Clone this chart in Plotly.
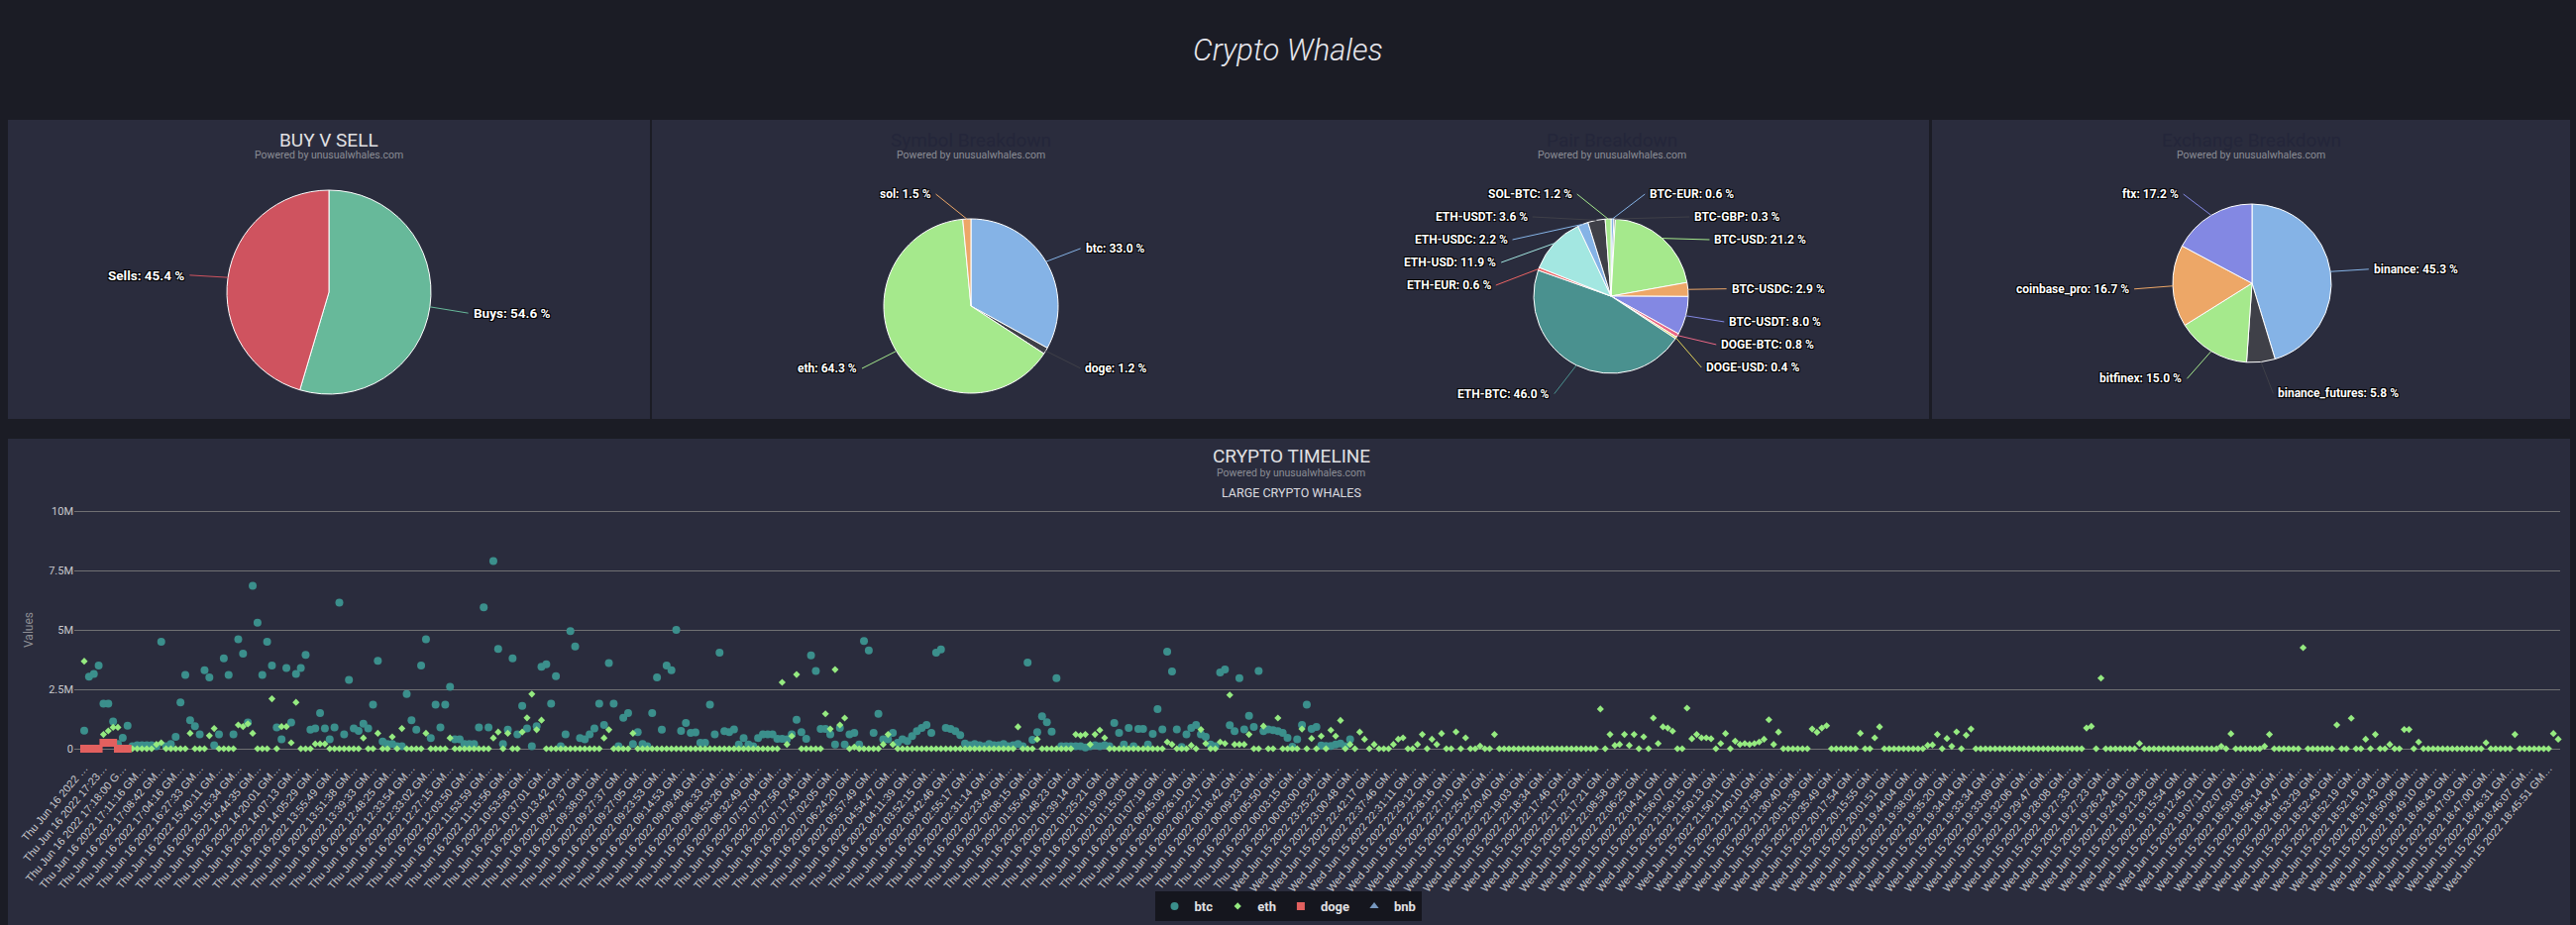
import math
import plotly.graph_objects as go

W, H = 2600, 934

# ---- pie data (percent shares as printed on the labels) ----
side_labels = ['Buys', 'Sells']
side_pct = [54.6, 45.4]
side_colors = ['#67b99a', '#cf535f']

symbol_labels = ['btc', 'doge', 'eth', 'sol']
symbol_pct = [33.0, 1.2, 64.3, 1.5]

pair_labels = ['BTC-EUR', 'BTC-GBP', 'BTC-USD', 'BTC-USDC', 'BTC-USDT', 'DOGE-BTC', 'DOGE-USD',
               'ETH-BTC', 'ETH-EUR', 'ETH-USD', 'ETH-USDC', 'ETH-USDT', 'SOL-BTC']
pair_pct = [0.6, 0.3, 21.2, 2.9, 8.0, 0.8, 0.4, 46.0, 0.6, 11.9, 2.2, 3.6, 1.2]

exchange_labels = ['binance', 'binance_futures', 'bitfinex', 'coinbase_pro', 'ftx']
exchange_pct = [45.3, 5.8, 15.0, 16.7, 17.2]

palette = ['#85b3e6', '#3f4048', '#a5e98c', '#eda767', '#8388e3',
           '#ea6784', '#e2d35a', '#4a918f', '#ec6464', '#a3e7e1']

# ---- timeline data, values in millions, newest trade first ----
btc = [.76, 3.03, 3.15, 3.5, 1.9, 1.9, 1.15, .2, .46, .97, .1, .15, .15, .15, .15, .1, 4.5, .1, .2, .5,
       1.95, 3.1, 1.2, .95, .6, 3.3, 3.0, .15, .6, 3.8, 3.1, .6, 4.6, 4.0, 1.1, 6.85, 5.3, 3.1, 4.5, 3.5,
       .9, .4, 3.4, 1.1, 3.15, 3.4, 3.95, .8, .85, 1.5, .85, .4, .9, 6.15, .6, 2.9, .85, .75, 1.05, .85,
       1.85, 3.7, .3, .2, .2, .1, .1, 2.3, 1.2, .8, 3.5, 4.6, .45, 1.85, .9, 1.85, 2.6, .4, .4, .2,
       .2, .2, .9, 5.95, .9, 7.9, 4.2, .2, .8, 3.8, .6, 1.8, .85, .1, .95, 3.45, 3.55, 1.9, 3.05, .1,
       .6, 4.95, 4.3, .45, .4, .6, .85, 1.9, 1.0, 3.6, 1.9, .1, 1.3, 1.5, .2, .7, .2, .1, 1.5, 3.0,
       .8, 3.5, 3.3, 5.0, .75, 1.08, .67, .69, .25, .25, 1.85, .6, 4.04, .74, .7, .81, .18, .45, .18, .1,
       .45, .6, .6, .6, .42, .42, .4, .6, 1.22, .7, .42, 3.93, 3.27, .83, .83, .6, .18, .87, .18, .6,
       .67, .18, 4.53, 4.14, .67, 1.47, .4, .4, .67, .25, .4, .32, .53, .74, .87, 1.0, .67, 4.04, 4.18, .87,
       .83, .74, .57, .22, .15, .2, .15, .1, .2, .15, .15, .2, .1, .15, .2, .1, 3.63, .38, .7, 1.36,
       1.11, .72, 2.97, .1, .1, .1, .1, .1, .05, .1, .15, .1, .15, .1, 1.08, .67, .18, .87, .1, .83,
       .83, .18, .62, 1.67, .81, 4.08, 3.25, .81, .07, .6, .87, 1.0, .6, .5, .18, .1, 3.21, 3.33, .99, .74,
       2.97, .81, 1.39, .92, 3.27, .74, .81, .78, .74, .67, .46, .08, .4, 1.0, 1.85, .83, .92, .14, .11, .11,
       .18, .22, .1, .4]

eth = [3.68, 0, 0, 0, .6, .75, .9, .9, 0, 0, 0, 0, 0, 0, 0, .18, .25, 0, 0, 0,
       0, 0, .65, 0, 0, 0, .55, .85, 0, 0, 0, 0, 1.0, .93, 1.05, .65, 0, 0, 0, 2.1,
       0, .93, .93, .25, 1.95, 0, 0, 0, .2, .2, .2, 0, 0, 0, 0, 0, 0, 0, .45, 0,
       0, .65, 0, 0, .5, 0, .85, 0, 0, 0, 0, .65, 0, 0, 0, 0, .45, 0, 0, 0,
       0, 0, 0, 0, 0, .45, .7, 0, .65, 0, 0, .7, 1.3, 2.3, .8, 1.2, 0, 0, 0, 0,
       0, 0, 0, 0, 0, 0, 0, 0, .45, .8, 0, 0, 0, 0, .65, 0, 0, 0, 0, 0,
       0, 0, 0, 0, 0, 0, 0, 0, 0, 0, 0, 0, 0, 0, 0, 0, 0, 0, 0, 0,
       0, 0, 0, 0, 0, 2.79, .18, .53, 3.12, 0, 0, 0, 0, 0, 1.47, .83, 3.33, 1.0, 1.29, 0,
       .07, 0, 0, 0, 0, 0, .18, .6, .18, 0, 0, 0, 0, 0, 0, 0, 0, 0, 0, 0,
       0, 0, 0, 0, 0, 0, 0, 0, 0, 0, 0, 0, 0, 0, .92, 0, 0, 0, .4, 0,
       0, 0, 0, 0, 0, 0, .6, .56, .6, .18, .6, .78, .46, 0, 0, 0, 0, 0, 0, 0,
       0, 0, 0, 0, 0, .28, .18, 0, 0, 0, .14, 0, .81, .22, 0, 0, .28, .22, 2.26, .18,
       .18, .18, .6, 0, 0, .95, 0, 0, 1.29, 0, 0, 0, 0, .83, 0, .43, 0, .53, 0, .78,
       .53, 1.19, 0, .18, 0, .7, .4, 0, .18, 0, 0, 0, .18, .4, .46, 0, 0, .18, .6, 0,
       .4, .18, .64, 0, 0, .71, 0, .46, 0, 0, .11, 0, 0, .6, 0, 0, 0, 0, 0, 0,
       0, 0, 0, 0, 0, 0, 0, 0, 0, 0, 0, 0, 0, 0, 0, 1.67, 0, .6, .14, .18,
       .6, .14, .6, 0, .5, 0, 1.29, .22, .92, .87, .74, 0, 0, 1.71, .42, .6, .46, .46, .42, 0,
       .22, .64, 0, .32, .18, .22, .18, .22, .28, .4, 1.22, .18, .7, 0, 0, 0, 0, 0, 0, .83,
       .69, .87, .97, 0, 0, 0, 0, 0, 0, .65, 0, 0, .46, .92, 0, 0, 0, 0, 0, 0,
       0, 0, 0, .14, .16, .6, 0, .43, .1, .71, 0, .57, .83, 0, 0, 0, 0, 0, 0, 0,
       0, 0, 0, 0, 0, 0, 0, 0, 0, 0, 0, 0, 0, 0, 0, 0, .87, .94, 0, 2.97,
       0, 0, 0, 0, 0, 0, 0, .22, 0, 0, 0, 0, 0, 0, 0, 0, 0, 0, 0, 0,
       0, 0, 0, 0, .1, 0, .63, 0, 0, 0, 0, 0, 0, .1, .6, 0, 0, 0, 0, 0,
       0, 4.25, 0, 0, 0, 0, 0, 0, 1.0, 0, 0, 1.28, 0, 0, .4, 0, .6, 0, 0, .18,
       0, 0, .81, .81, 0, .28, 0, 0, 0, 0, 0, 0, 0, 0, 0, 0, 0, 0, 0, .25,
       0, 0, 0, 0, 0, .6, 0, 0, 0, 0, 0, 0, 0, .64, .4]

doge = [0, 0, 0, 0, .25, .25, .25, 0, 0, 0]
bnb = []

thu_times = ['17:11:16', '17:08:42', '17:04:16', '16:27:33', '15:40:11', '15:15:34', '14:44:35',
             '14:20:01', '14:07:13', '14:05:29', '13:55:49', '13:51:38', '13:39:33', '12:48:25',
             '12:33:54', '12:33:02', '12:27:15', '12:03:50', '11:53:59', '11:15:56', '10:53:56',
             '10:37:01', '10:13:42', '09:47:37', '09:38:03', '09:27:37', '09:27:05', '09:23:53',
             '09:14:53', '09:09:48', '09:06:33', '08:53:26', '08:32:49', '07:57:04', '07:27:56',
             '07:17:43', '07:02:05', '06:24:20', '05:57:49', '04:54:47', '04:11:39', '03:52:15',
             '03:42:46', '02:55:17', '02:31:14', '02:23:49', '02:08:15', '01:55:40', '01:48:23',
             '01:39:14', '01:25:21', '01:19:09', '01:15:03', '01:07:19', '00:45:09', '00:26:10',
             '00:22:17', '00:18:42', '00:09:23', '00:05:50', '00:03:15', '00:03:00']
wed_times = ['23:25:22', '23:00:48', '22:42:17', '22:37:46', '22:31:11', '22:29:12', '22:28:16',
             '22:27:10', '22:25:47', '22:20:40', '22:19:03', '22:18:34', '22:17:46', '22:17:22',
             '22:17:21', '22:08:58', '22:06:25', '22:04:41', '21:56:07', '21:50:15', '21:50:13',
             '21:50:11', '21:40:10', '21:37:58', '21:30:40', '20:51:36', '20:35:49', '20:17:54',
             '20:15:55', '20:01:51', '19:44:04', '19:38:02', '19:35:20', '19:34:04', '19:33:34',
             '19:33:09', '19:32:06', '19:29:47', '19:28:08', '19:27:33', '19:27:23', '19:26:24',
             '19:24:31', '19:21:28', '19:15:54', '19:12:45', '19:07:11', '19:02:07', '18:59:03',
             '18:56:14', '18:54:47', '18:53:29', '18:52:43', '18:52:19', '18:52:16', '18:51:43',
             '18:50:06', '18:49:10', '18:48:43', '18:47:03', '18:47:00', '18:46:31', '18:46:07',
             '18:45:51']

tick_labels = (['Thu Jun 16 2022 …', 'Thu Jun 16 2022 17:23…', 'Thu Jun 16 2022 17:18:00 G…']
               + ['Thu Jun 16 2022 %s GM…' % t for t in thu_times]
               + ['Wed Jun 15 2022 %s GM…' % t for t in wed_times])

y_ticks = [0, 2.5, 5, 7.5, 10]
y_tick_text = ['0', '2.5M', '5M', '7.5M', '10M']

label_step = 4   # one time label every 4 trades


def px(x):
    return x / W


def py(y):
    return 1 - y / H


def pie_domain(cx, cy, r):
    return dict(x=[px(cx - r), px(cx + r)], y=[py(cy + r), py(cy - r)])


def spread(nat, gap, lo, hi):
    # push sorted label positions apart, keeping clusters centred on their slices
    groups = []
    for v in nat:
        groups.append([v, [v]])
        while True:
            g = groups[-1]
            n = len(g[1])
            start = sum(g[1]) / n - (n - 1) * gap / 2
            g[0] = min(max(start, lo), hi - (n - 1) * gap)
            if len(groups) > 1:
                p = groups[-2]
                if g[0] < p[0] + len(p[1]) * gap:
                    p[1].extend(g[1])
                    groups.pop()
                    continue
            break
    out = []
    for start, members in groups:
        out += [start + i * gap for i in range(len(members))]
    return out


outline = '-1px -1px 0 #000, 1px -1px 0 #000, -1px 1px 0 #000, 1px 1px 0 #000'

annotations = []


def pie_labels(labels, values, colors, cx, cy, r, fs):
    total = sum(values)
    R = r + 30
    items = []
    acc = 0
    for lab, val, col in zip(labels, values, colors):
        mid = math.radians((acc + val / 2) / total * 360)
        acc += val
        items.append(dict(text='%s: %.1f %%' % (lab, val), color=col, mid=mid,
                          nat=-R * math.cos(mid), right=math.sin(mid) >= 0))
    for side in (True, False):
        group = sorted([it for it in items if it['right'] == side], key=lambda it: it['nat'])
        for it, p in zip(group, spread([it['nat'] for it in group], 23, 194 - cy, 400 - cy)):
            it['pos'] = p
    for it in items:
        dx = math.sqrt(max(R * R - it['pos'] ** 2, 0)) + 14
        sign = 1 if it['right'] else -1
        hx, hy = cx + r * math.sin(it['mid']), cy - r * math.cos(it['mid'])
        tx, ty = cx + sign * (dx - 5), cy + it['pos'] + 2
        annotations.append(dict(
            text=it['text'], x=px(hx), y=py(hy), xref='paper', yref='paper',
            showarrow=True, ax=tx - hx, ay=ty - hy, axref='pixel', ayref='pixel',
            arrowhead=0, arrowwidth=1, arrowcolor=it['color'], standoff=0, borderpad=4,
            xanchor='left' if it['right'] else 'right', yanchor='middle',
            font=dict(family='Roboto', size=fs, color='#ffffff', weight='bold', shadow=outline)))


fig = go.Figure()

pies = [
    (side_labels, side_pct, side_colors, (332, 295, 103), 13.5),
    (symbol_labels, symbol_pct, palette, (980, 309, 88), 12),
    (pair_labels, pair_pct, palette, (1626, 299, 78), 12),
    (exchange_labels, exchange_pct, palette, (2273, 286, 80), 12),
]
for labels, values, colors, (cx, cy, r), fs in pies:
    slice_colors = (colors * 2)[:len(labels)]
    fig.add_trace(go.Pie(
        labels=labels, values=values, sort=False, direction='clockwise', rotation=0,
        domain=pie_domain(cx, cy, r),
        marker=dict(colors=slice_colors, line=dict(color='#ffffff', width=1)),
        textinfo='none', showlegend=False, hoverinfo='label+percent'))
    pie_labels(labels, values, slice_colors, cx, cy, r, fs)

series = [
    ('btc', btc, 'circle', 8, '#3b8f8c'),
    ('eth', eth, 'diamond', 5.5, '#95ea80'),
    ('doge', doge, 'square', 8, '#e2605f'),
    ('bnb', bnb, 'triangle-up', 8, '#7798bf'),
]
for name, vals, symbol, size, color in series:
    fig.add_trace(go.Scatter(
        x=list(range(len(vals))) if vals else [None], y=vals if vals else [None],
        mode='markers', name=name,
        marker=dict(symbol=symbol, size=size, color=color, line=dict(width=0)),
        cliponaxis=False,
        hovertemplate=name + ': %{y:.2f}M<extra></extra>'))

panel = '#2a2c3d'
shapes = []
for x0, y0, x1, y1 in [(8, 121, 656, 423), (658, 121, 1947, 423),
                       (1950, 121, 2594, 423), (8, 443, 2594, 934)]:
    shapes.append(dict(type='rect', xref='paper', yref='paper', layer='below',
                       x0=px(x0), x1=px(x1), y0=py(y1), y1=py(y0),
                       fillcolor=panel, line=dict(width=0)))


def note(text, x, y, size, color):
    annotations.append(dict(text=text, x=px(x), y=py(y), xref='paper', yref='paper',
                            xanchor='center', yanchor='middle', showarrow=False,
                            font=dict(family='Roboto', size=size, color=color)))


note('BUY V SELL', 332, 141, 19, '#e0e0e3')
note('Symbol Breakdown', 980, 141, 19, '#24263a')
note('Pair Breakdown', 1627, 141, 19, '#24263a')
note('Exchange Breakdown', 2272, 141, 19, '#24263a')
for cx in [332, 980, 1627, 2272]:
    note('Powered by unusualwhales.com', cx, 157, 10.5, '#8b8c95')
note('CRYPTO TIMELINE', 1303, 461, 19, '#e0e0e3')
note('Powered by unusualwhales.com', 1303, 477, 10.5, '#8b8c95')
note('LARGE CRYPTO WHALES', 1303, 497, 12.5, '#dcdce0')

fig.update_layout(
    width=W, height=H,
    margin=dict(l=0, r=0, t=0, b=0, autoexpand=False),
    paper_bgcolor='#1b1c25',
    plot_bgcolor='rgba(0,0,0,0)',
    title=dict(text='Crypto Whales', x=0.5, xanchor='center', y=py(50), yanchor='middle',
               font=dict(family='Roboto', size=31, color='#e6e6ec', style='italic', weight=300)),
    shapes=shapes,
    annotations=annotations,
    xaxis=dict(domain=[px(75), px(2584)], range=[-2.06, 514.4], automargin=False,
               tickmode='array',
               tickvals=[label_step * i for i in range(len(tick_labels))],
               ticktext=tick_labels, tickangle=-50, ticks='', ticklabelstandoff=6,
               tickfont=dict(family='Liberation Sans', size=11, color='#c9c9cd'),
               showgrid=False, zeroline=False, showline=False),
    yaxis=dict(domain=[py(760), py(512)], range=[-4 / 24, 10 + 4 / 24], automargin=False,
               tickmode='array', tickvals=y_ticks, ticktext=y_tick_text, ticks='',
               tickfont=dict(family='Roboto', size=11, color='#c9c9cd'),
               gridcolor='#707073', gridwidth=1, zeroline=True, zerolinecolor='#707073',
               zerolinewidth=1, showline=False,
               title=dict(text='Values', standoff=12,
                          font=dict(family='Roboto', size=12, color='#8d8e94'))),
    legend=dict(orientation='h', x=0.5, xanchor='center', y=py(915), yanchor='middle',
                bgcolor='rgba(0,0,0,0.5)',
                font=dict(family='Roboto', size=13, color='#e0e0e3', weight='bold')),
    hovermode='closest',
)

fig.write_html('out.html', config={'displayModeBar': False},
               post_script="document.body.style.margin='0';"
                           "document.body.style.background='#1b1c25';")
